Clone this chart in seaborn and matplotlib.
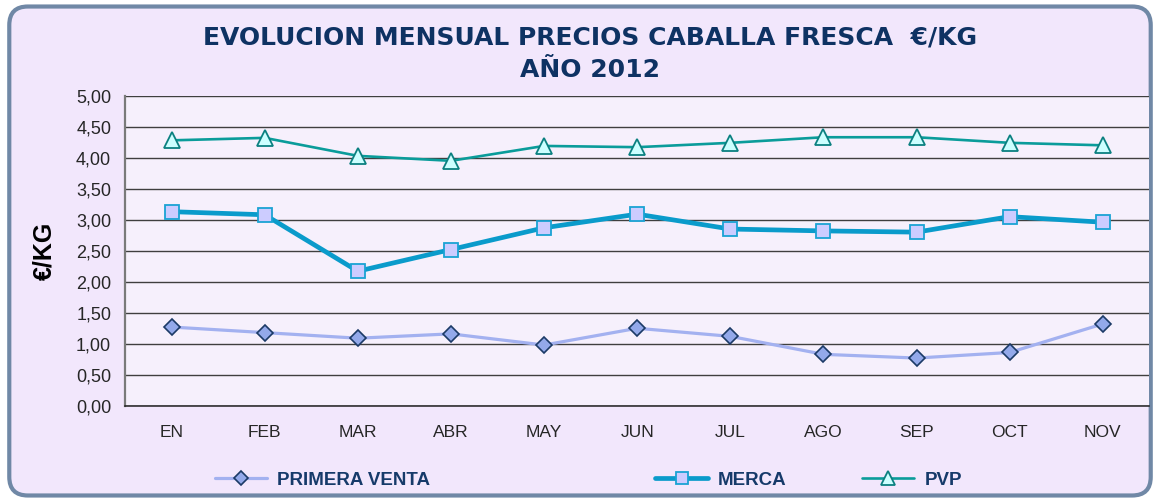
import matplotlib
matplotlib.use("Agg")
import matplotlib.pyplot as plt
import seaborn as sns
from matplotlib.patches import FancyBboxPatch
from matplotlib.lines import Line2D

# ---- data ----
months = ["EN", "FEB", "MAR", "ABR", "MAY", "JUN", "JUL", "AGO", "SEP", "OCT", "NOV"]
primera_venta = [1.27, 1.18, 1.09, 1.16, 0.98, 1.25, 1.12, 0.83, 0.77, 0.86, 1.32]
merca = [3.13, 3.08, 2.17, 2.52, 2.87, 3.09, 2.85, 2.82, 2.80, 3.05, 2.96]
pvp = [4.28, 4.32, 4.03, 3.95, 4.19, 4.17, 4.24, 4.33, 4.33, 4.24, 4.20]
yticks = [0.0, 0.5, 1.0, 1.5, 2.0, 2.5, 3.0, 3.5, 4.0, 4.5, 5.0]
ytick_labels = ["0,00", "0,50", "1,00", "1,50", "2,00", "2,50", "3,00", "3,50", "4,00", "4,50", "5,00"]
series_names = ["PRIMERA VENTA", "MERCA", "PVP"]
title_text = "EVOLUCION MENSUAL PRECIOS CABALLA FRESCA  €/KG\nAÑO 2012"
ylabel_text = "€/KG"

sns.set_style("white")
plt.rcParams["font.family"] = ["Liberation Sans", "DejaVu Sans"]

fig = plt.figure(figsize=(11.6, 5.01), dpi=100)
fig.patch.set_facecolor("white")

# rounded background box
bg = FancyBboxPatch((0.008, 0.011), 0.984, 0.976,
                    boxstyle="round,pad=0,rounding_size=0.016",
                    transform=fig.transFigure, facecolor="#F2E7FC",
                    edgecolor="#7088A6", linewidth=3.0, zorder=-10,
                    mutation_aspect=1160 / 501)
fig.patches.append(bg)

ax = fig.add_axes([0.1078, 0.190, 0.883, 0.619])
ax.set_facecolor("#F6F0FC")

styles = {
    "PRIMERA VENTA": dict(color="#A3B1F0", lw=2.3, marker="D", ms=8.2,
                          mfc="#93A9EA", mec="#1B3A66", mew=1.2),
    "MERCA": dict(color="#0A9BCB", lw=3.4, marker="s", ms=10.5,
                  mfc="#CCCCFF", mec="#1AA3D4", mew=1.3),
    "PVP": dict(color="#0A9C9A", lw=1.9, marker="^", ms=12,
                mfc="#CCFFFF", mec="#0B8080", mew=1.3),
}
values = {"PRIMERA VENTA": primera_venta, "MERCA": merca, "PVP": pvp}

for name in series_names:
    st = styles[name]
    sns.lineplot(x=months, y=values[name], ax=ax, color=st["color"],
                 linewidth=st["lw"], marker=st["marker"], markersize=st["ms"],
                 markerfacecolor=st["mfc"], markeredgecolor=st["mec"],
                 markeredgewidth=st["mew"], zorder=3)

ax.set_ylim(0, 5.0)
ax.set_xlim(-0.5, len(months) - 0.5)
ax.set_yticks(yticks)
ax.set_yticklabels(ytick_labels, fontsize=13)
ax.set_xticks(range(len(months)))
ax.set_xticklabels(months, fontsize=12.5)
ax.tick_params(axis="x", which="major", length=0, pad=14)
ax.set_xticks([i - 0.5 for i in range(len(months) + 1)], minor=True)
ax.tick_params(axis="x", which="minor", length=5, width=1.2, color="#555555", direction="out")
ax.tick_params(axis="y", length=5, width=1.0, color="#555555", direction="out", pad=5)

ax.grid(axis="y", color="#3F3F3F", linewidth=1.0)
ax.set_axisbelow(True)
for s in ["top", "right"]:
    ax.spines[s].set_visible(False)
ax.spines["left"].set_color("#7A7A7A")
ax.spines["left"].set_linewidth(1.6)
ax.spines["bottom"].set_color("#202020")
ax.spines["bottom"].set_linewidth(1.1)

ax.set_xlabel("")
ax.set_ylabel(ylabel_text, fontsize=18, fontweight="bold", color="black", labelpad=14)

fig.text(0.509, 0.892, title_text, ha="center", va="center", fontsize=18,
         fontweight="bold", color="#0E3263", family="DejaVu Sans",
         linespacing=1.45)

# legend: three separate entries positioned like the original
legend_x = [0.185, 0.565, 0.743]
for name, lx in zip(series_names, legend_x):
    st = styles[name]
    h = Line2D([0], [0], color=st["color"], lw=st["lw"], marker=st["marker"],
               ms=st["ms"] * 0.85, mfc=st["mfc"], mec=st["mec"], mew=st["mew"])
    leg = fig.legend([h], [name], loc="center left", bbox_to_anchor=(lx, 0.042),
                     frameon=False, handlelength=2.8, handletextpad=0.55,
                     borderpad=0, borderaxespad=0,
                     prop={"size": 13.5, "weight": "bold"})
    for t in leg.get_texts():
        t.set_color("#163A6A")

fig.savefig("out.png", dpi=100, facecolor=fig.get_facecolor())
